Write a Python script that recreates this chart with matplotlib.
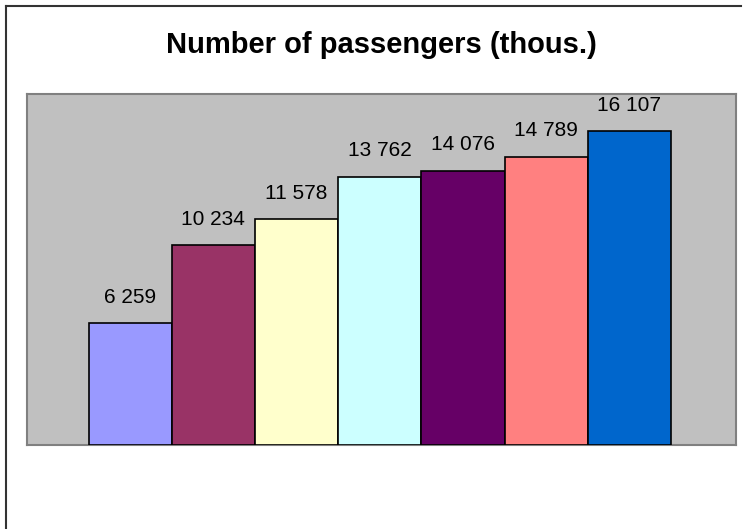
import matplotlib.pyplot as plt
from matplotlib.lines import Line2D

plt.rcParams['font.family'] = ['Liberation Sans', 'DejaVu Sans']

values = [6259, 10234, 11578, 13762, 14076, 14789, 16107]
labels = ['6 259', '10 234', '11 578', '13 762', '14 076', '14 789', '16 107']
colors = ['#9999ff', '#993366', '#ffffcc', '#ccffff', '#660066', '#ff8080', '#0066cc']

W, H = 751, 529
fig = plt.figure(figsize=(W / 100, H / 100), dpi=100)

# plot area in pixels: x 27..736, y 94..445
x0, x1, y0, y1 = 27, 736, 94, 445
ax = fig.add_axes([x0 / W, 1 - y1 / H, (x1 - x0) / W, (y1 - y0) / H])
ax.set_facecolor('#c0c0c0')

pos = list(range(len(values)))
ax.bar(pos, values, width=1.0, color=colors, edgecolor='black', linewidth=1.2, zorder=3)
for p, v, t in zip(pos, values, labels):
    ax.annotate(t, (p, v), xytext=(0, 18.5), textcoords='offset points',
                ha='center', va='center', fontsize=15, color='black')

ax.set_xlim(-1.24, 7.28)
ax.set_ylim(0, 18000)
ax.set_xticks([])
ax.set_yticks([])
for s in ax.spines.values():
    s.set_color('#808080')
    s.set_linewidth(1.5)

fig.text(381 / W, 1 - 45 / H, 'Number of passengers (thous.)', ha='center', va='center',
         fontsize=21, fontweight='bold')

# chart frame: left and top edges only
fig.add_artist(Line2D([5.5 / W, 5.5 / W], [0, 1 - 5.5 / H], color='#333333', linewidth=1.5))
fig.add_artist(Line2D([5.5 / W, 741 / W], [1 - 5.5 / H, 1 - 5.5 / H], color='#333333', linewidth=1.5))

fig.savefig('out.png', dpi=100)
